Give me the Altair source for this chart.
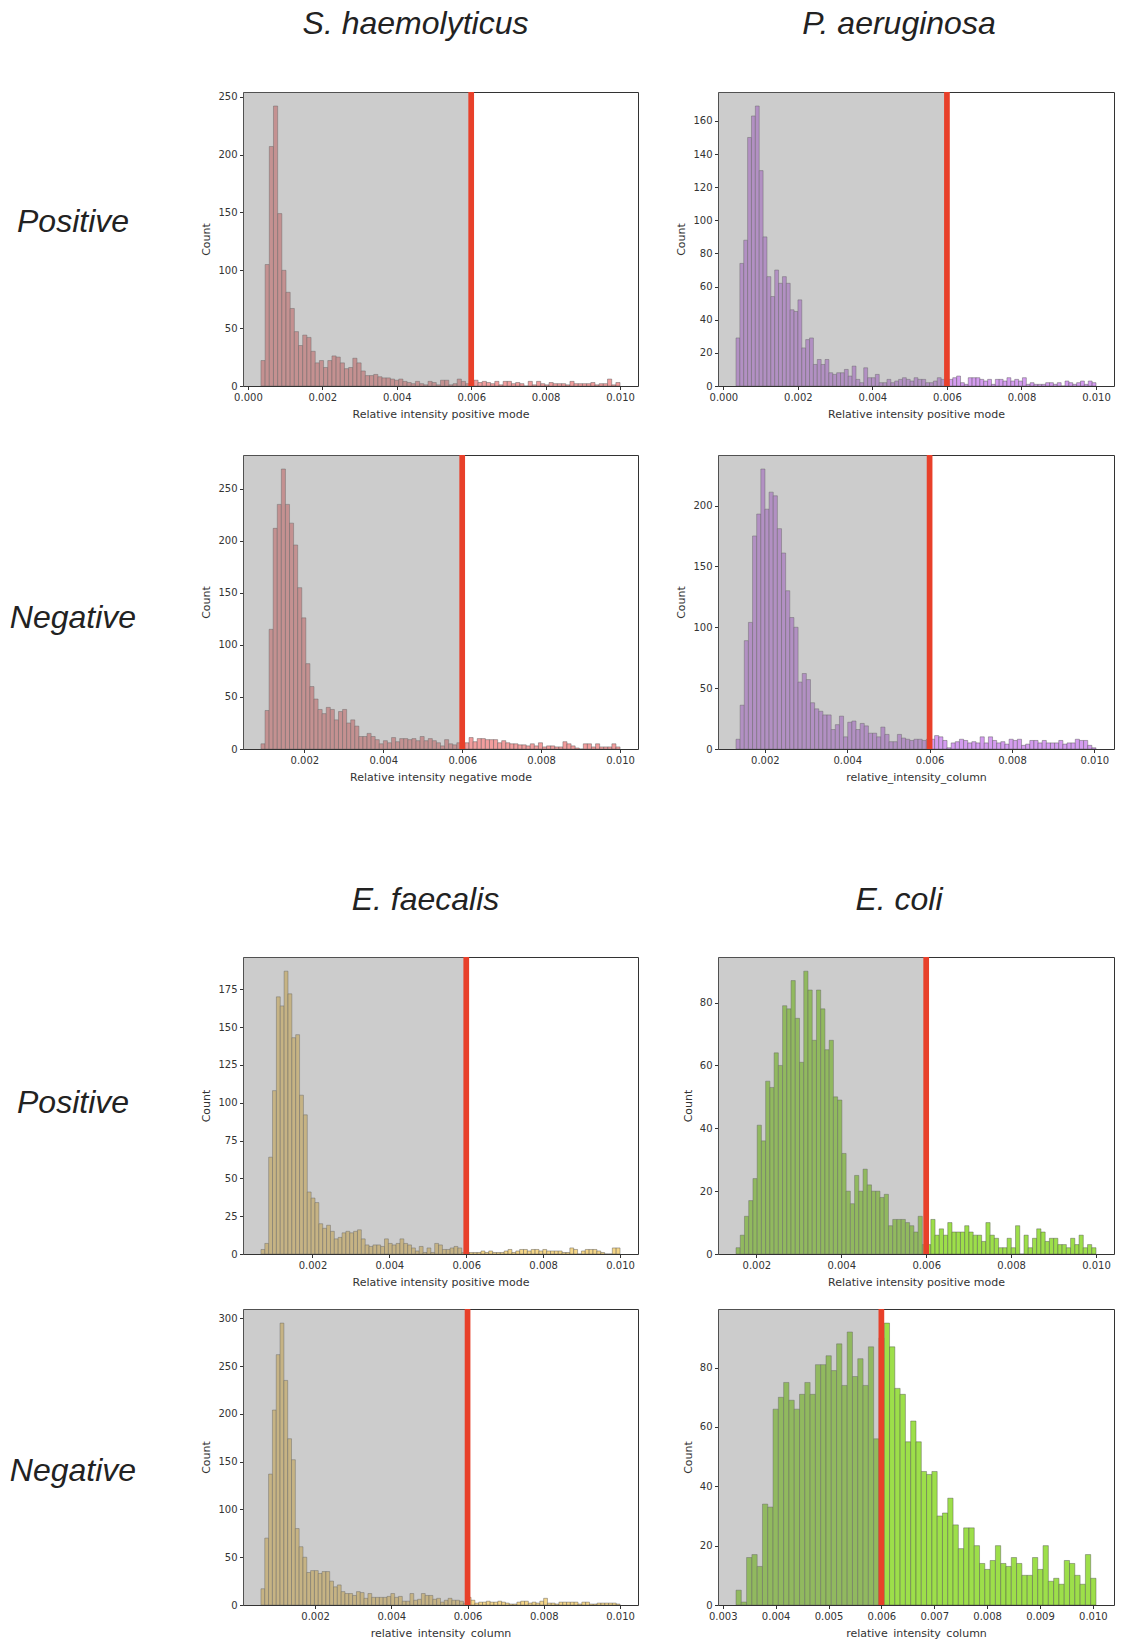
import altair as alt
import pandas as pd

# ---------------- data ----------------
species = ["S. haemolyticus", "P. aeruginosa", "E. faecalis", "E. coli"]
modes = ["Positive", "Negative", "Positive", "Negative"]
threshold = 0.006

# S. haemolyticus, positive mode
sh_pos_counts = [22, 105, 207, 242, 149, 100, 81, 67, 47, 35,
                 44, 42, 30, 20, 22, 16, 22, 26, 25, 20,
                 15, 16, 24, 20, 13, 9, 9, 10, 8, 7,
                 7, 6, 5, 6, 4, 3, 2, 4, 2, 1,
                 4, 3, 1, 5, 5, 1, 2, 6, 4, 2,
                 4, 5, 3, 4, 3, 2, 4, 1, 4, 4,
                 2, 3, 2, 0, 4, 1, 4, 2, 1, 3,
                 2, 2, 2, 1, 4, 2, 2, 2, 2, 3,
                 1, 2, 2, 6, 1, 3]
sh_pos_range = [0.00035, 0.0100]

# P. aeruginosa, positive mode
pa_pos_counts = [29, 74, 88, 150, 163, 169, 130, 90, 66, 54,
                 70, 62, 66, 62, 46, 45, 52, 23, 28, 29,
                 13, 16, 13, 16, 8, 7, 8, 8, 10, 6,
                 12, 4, 2, 11, 5, 5, 7, 2, 2, 4,
                 2, 3, 4, 5, 4, 3, 5, 4, 4, 2,
                 2, 3, 5, 4, 2, 4, 5, 6, 2, 1,
                 5, 5, 5, 4, 3, 4, 1, 4, 4, 3,
                 5, 3, 4, 3, 5, 1, 2, 1, 1, 1,
                 2, 2, 1, 2, 0, 3, 2, 1, 2, 3,
                 1, 3, 2]
pa_pos_range = [0.00034, 0.0100]

# S. haemolyticus, negative mode
sh_neg_counts = [5, 37, 115, 212, 235, 269, 235, 217, 196, 155,
                 126, 82, 60, 48, 38, 34, 40, 38, 28, 36,
                 38, 25, 28, 22, 12, 12, 15, 12, 9, 5,
                 8, 6, 11, 7, 10, 10, 9, 10, 8, 12,
                 8, 10, 8, 6, 3, 9, 5, 4, 6, 5,
                 6, 11, 7, 10, 10, 9, 9, 9, 6, 8,
                 6, 5, 5, 4, 4, 3, 5, 3, 6, 2,
                 3, 3, 2, 2, 7, 5, 3, 1, 0, 5,
                 5, 2, 5, 2, 2, 2, 5, 2]
sh_neg_range = [0.0009, 0.0100]

# P. aeruginosa, negative mode
pa_neg_counts = [8, 36, 89, 104, 175, 193, 230, 197, 211, 208,
                 181, 161, 130, 108, 100, 55, 62, 57, 38, 33,
                 31, 28, 28, 16, 20, 27, 10, 22, 23, 16,
                 21, 19, 13, 13, 10, 18, 12, 6, 6, 12,
                 9, 8, 7, 8, 8, 7, 8, 8, 11, 10,
                 7, 1, 5, 6, 8, 7, 5, 6, 5, 10,
                 5, 10, 7, 5, 6, 4, 8, 7, 8, 3,
                 4, 7, 7, 5, 7, 5, 5, 5, 7, 4,
                 5, 5, 8, 7, 7, 3, 1]
pa_neg_range = [0.0013, 0.01004]

# E. faecalis, positive mode
ef_pos_counts = [3, 7, 64, 108, 170, 164, 187, 172, 143, 145,
                 105, 92, 41, 37, 34, 20, 17, 19, 15, 10,
                 11, 14, 15, 14, 15, 16, 10, 6, 5, 6,
                 6, 5, 10, 7, 6, 7, 10, 7, 6, 4,
                 2, 5, 1, 4, 1, 7, 6, 3, 3, 4,
                 5, 4, 1, 1, 1, 1, 1, 2, 1, 2,
                 1, 1, 1, 2, 3, 1, 2, 3, 3, 2,
                 3, 3, 2, 3, 2, 2, 2, 2, 1, 1,
                 4, 3, 0, 2, 3, 3, 3, 2, 1, 0,
                 0, 4, 4]
ef_pos_range = [0.00066, 0.0100]

# E. coli, positive mode
ec_pos_counts = [2, 6, 12, 17, 24, 41, 36, 55, 53, 64,
                 60, 79, 78, 87, 75, 61, 90, 84, 68, 84,
                 78, 65, 68, 50, 49, 32, 20, 16, 25, 20,
                 27, 22, 20, 20, 18, 19, 9, 11, 11, 11,
                 10, 9, 7, 12, 3, 3, 11, 6, 8, 6,
                 10, 7, 7, 7, 9, 7, 6, 6, 4, 10,
                 6, 5, 2, 2, 5, 2, 9, 0, 6, 2,
                 5, 8, 7, 4, 5, 5, 3, 3, 2, 5,
                 3, 6, 2, 3, 2]
ec_pos_range = [0.00152, 0.0100]

# E. faecalis, negative mode
ef_neg_counts = [17, 70, 137, 204, 262, 295, 235, 174, 152, 80,
                 61, 50, 34, 36, 36, 33, 35, 35, 25, 19,
                 21, 14, 12, 12, 10, 14, 13, 7, 12, 8,
                 8, 8, 8, 9, 12, 8, 9, 4, 4, 12,
                 5, 6, 12, 10, 10, 6, 7, 3, 5, 7,
                 5, 5, 4, 2, 8, 5, 2, 3, 3, 4,
                 3, 3, 4, 3, 2, 1, 1, 3, 4, 4,
                 2, 3, 2, 4, 7, 2, 2, 1, 3, 3,
                 3, 3, 3, 1, 3, 3, 1, 1, 2, 2,
                 2, 2, 2, 1]
ef_neg_range = [0.00058, 0.0100]

# E. coli, negative mode
ec_neg_counts = [5, 1, 16, 17, 13, 34, 33, 66, 70, 75,
                 69, 66, 71, 75, 71, 81, 81, 84, 79, 88,
                 74, 92, 77, 83, 74, 87, 56, 90, 95, 87,
                 73, 71, 55, 62, 55, 45, 44, 45, 30, 31,
                 36, 27, 19, 26, 26, 20, 14, 12, 15, 20,
                 14, 13, 16, 14, 10, 10, 16, 12, 20, 8,
                 9, 7, 15, 14, 10, 7, 17, 9]
ec_neg_range = [0.00325, 0.01006]

x_titles = ["Relative intensity positive mode", "Relative intensity negative mode",
            "relative_intensity_column"]

ticks_a = [0.000, 0.002, 0.004, 0.006, 0.008, 0.010]
ticks_b = [0.002, 0.004, 0.006, 0.008, 0.010]
ticks_c = [0.003, 0.004, 0.005, 0.006, 0.007, 0.008, 0.009, 0.010]

colors = {"sh": "#f29d9d", "pa": "#d49cf0", "ef": "#f5d688", "ec": "#9ddf4a"}

# ---------------- styling / layout ----------------
W_L, W_R = 395, 396
ROW_H = [294, 294, 297, 296]
GAPS = [69, 208, 55]
LABEL_W = 163
COL_SPACING = 80
LABEL_X = 73
LABEL_Y = [130, 163, 146, 162]
TITLE_DX = [-25, -17, -15, -17]
TITLE_OFFSET = [48, 48, 37, 37]

TEXT_FONT = "Liberation Sans"
AX_FONT = "DejaVu Sans"


def panel(counts, rng, color, xtitle, xticks, ystep, w, h, title=None, tdx=0, toff=0):
    start, end = rng
    n = len(counts)
    bw = (end - start) / n
    df = pd.DataFrame({
        "x0": [start + i * bw for i in range(n)],
        "x1": [start + (i + 1) * bw for i in range(n)],
        "count": counts,
    })
    span = end - start
    xdom = [start - 0.05 * span, end + 0.05 * span]
    ymax = max(counts) * 1.05
    yticks = list(range(0, int(ymax) + 1, ystep))
    xs = alt.Scale(domain=xdom, nice=False, zero=False)
    ys = alt.Scale(domain=[0, ymax], nice=False, zero=True)

    bars = alt.Chart(df).mark_rect(
        fill=color, stroke="#4a4a4a", strokeWidth=0.6, strokeOpacity=0.7, clip=True
    ).encode(
        x=alt.X("x0:Q", scale=xs, title=xtitle,
                axis=alt.Axis(values=xticks, format=".3f", grid=False, domain=False)),
        x2="x1:Q",
        y=alt.Y("count:Q", scale=ys, title="Count",
                axis=alt.Axis(values=yticks, grid=False, domain=False)),
        y2=alt.datum(0),
    )
    shade_df = pd.DataFrame({"lo": [xdom[0]], "hi": [threshold]})
    shade = alt.Chart(shade_df).mark_rect(color="#808080", opacity=0.4).encode(
        x=alt.X("lo:Q", title=xtitle),
        x2="hi:Q",
        y=alt.value(0),
        y2=alt.value(h),
    )
    line_df = pd.DataFrame({"t": [threshold]})
    line = alt.Chart(line_df).mark_rule(color="#e8402a", strokeWidth=5.7).encode(
        x=alt.X("t:Q", title=xtitle),
    )
    props = dict(width=w, height=h, view=alt.ViewBackground(stroke="#333333", strokeWidth=1))
    if title is not None:
        props["title"] = alt.TitleParams(
            text=title, font=TEXT_FONT, fontSize=32, fontStyle="italic",
            fontWeight="normal", color="#222222", anchor="middle", dx=tdx, offset=toff)
    return alt.layer(bars, shade, line).properties(**props)


def label(text, ly, h):
    return alt.Chart(pd.DataFrame({"t": [text]})).mark_text(
        font=TEXT_FONT, fontSize=32, fontStyle="italic", align="center",
        baseline="middle", color="#222222"
    ).encode(
        text="t:N", x=alt.value(LABEL_X), y=alt.value(ly)
    ).properties(width=LABEL_W, height=h)


def spacer(h):
    return alt.Chart(pd.DataFrame({"t": [""]})).mark_text().encode(
        text="t:N").properties(width=10, height=h)


p1 = panel(sh_pos_counts, sh_pos_range, colors["sh"], x_titles[0], ticks_a, 50, W_L, ROW_H[0],
           species[0], TITLE_DX[0], TITLE_OFFSET[0])
p2 = panel(pa_pos_counts, pa_pos_range, colors["pa"], x_titles[0], ticks_a, 20, W_R, ROW_H[0],
           species[1], TITLE_DX[1], TITLE_OFFSET[1])
p3 = panel(sh_neg_counts, sh_neg_range, colors["sh"], x_titles[1], ticks_b, 50, W_L, ROW_H[1])
p4 = panel(pa_neg_counts, pa_neg_range, colors["pa"], x_titles[2], ticks_b, 50, W_R, ROW_H[1])
p5 = panel(ef_pos_counts, ef_pos_range, colors["ef"], x_titles[0], ticks_b, 25, W_L, ROW_H[2],
           species[2], TITLE_DX[2], TITLE_OFFSET[2])
p6 = panel(ec_pos_counts, ec_pos_range, colors["ec"], x_titles[0], ticks_b, 20, W_R, ROW_H[2],
           species[3], TITLE_DX[3], TITLE_OFFSET[3])
p7 = panel(ef_neg_counts, ef_neg_range, colors["ef"], x_titles[2], ticks_b, 50, W_L, ROW_H[3])
p8 = panel(ec_neg_counts, ec_neg_range, colors["ec"], x_titles[2], ticks_c, 20, W_R, ROW_H[3])

cells = []
pairs = [(p1, p2), (p3, p4), (p5, p6), (p7, p8)]
for i, (a, b) in enumerate(pairs):
    cells += [label(modes[i], LABEL_Y[i], ROW_H[i]), a, b]
    if i < 3:
        cells += [spacer(GAPS[i]), spacer(GAPS[i]), spacer(GAPS[i])]

chart = alt.concat(
    *cells, columns=3, spacing=alt.RowColnumber(row=0, column=COL_SPACING),
    bounds="flush", align="each"
).properties(
    padding={"left": 0, "top": 7, "right": 0, "bottom": 0},
    background="white",
).configure_view(
    stroke=None
).configure_axis(
    labelFont=AX_FONT, titleFont=AX_FONT, labelFontSize=10, titleFontSize=11,
    titleFontWeight="normal", labelColor="#333333", titleColor="#333333",
    tickColor="#333333", tickSize=3.5, labelPadding=2.5, titlePadding=6,
    labelFlush=False, labelOverlap=False
)

chart.save("out.html", embed_options={"renderer": "svg", "actions": False})
